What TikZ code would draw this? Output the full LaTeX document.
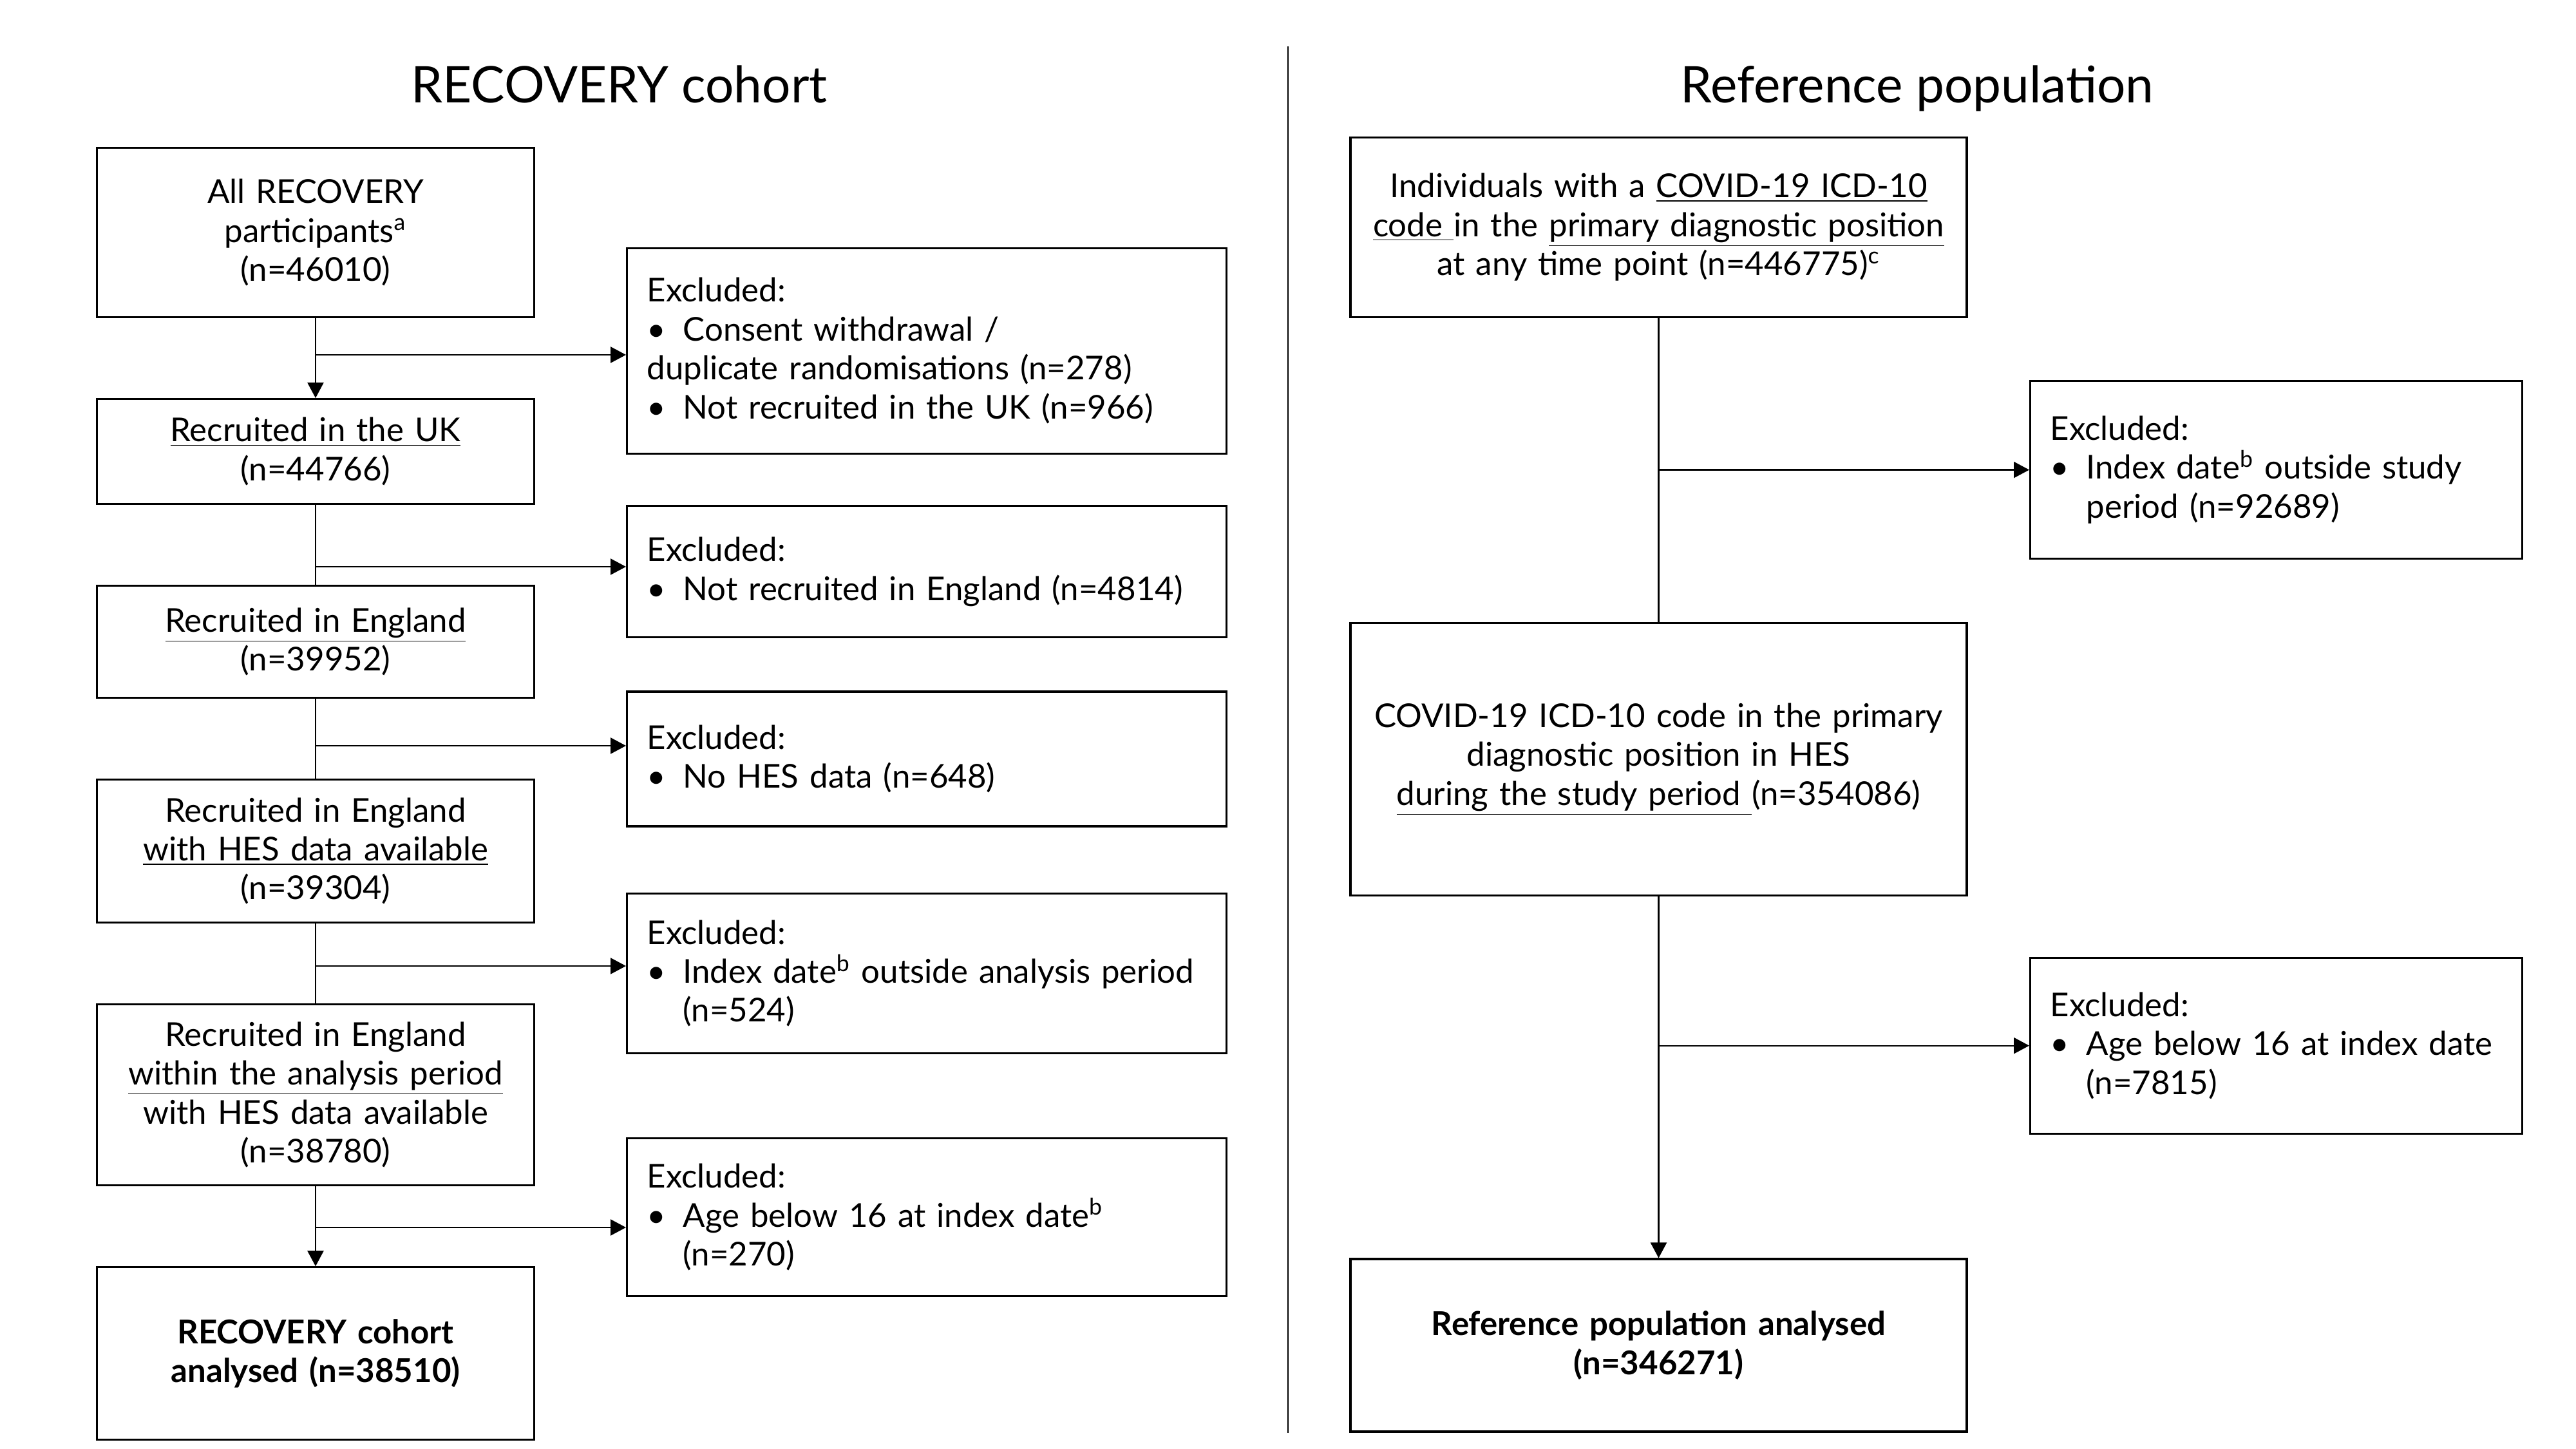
\documentclass[tikz,border=0pt]{standalone}
\usepackage{fontspec}
\setmainfont{Lato}
\usetikzlibrary{arrows.meta, calc, positioning}

\newcommand{\blt}{\makebox[0.56cm][l]{\textbullet}}
\newcommand{\hangtab}{\hspace*{0.56cm}}

\begin{document}
\begin{tikzpicture}[
    >={Triangle[length=0.24cm, width=0.25cm]},
    every node/.style={font=\fontsize{14.5}{17.2}\selectfont},
    heading/.style={font=\fontsize{22.3}{26}\selectfont, anchor=base},
    cohortbox/.style={rectangle, draw, line width=0.9pt, align=center,
        inner xsep=0.2cm, text width=6.39cm},
    refbox/.style={cohortbox, text width=9.17cm},
    endbox/.style={font=\fontsize{14.5}{17.2}\selectfont\bfseries},
    exclbox/.style={rectangle, draw, line width=0.9pt, align=left, anchor=west,
        inner xsep=0.31cm, text width=8.69cm},
    refexcl/.style={exclbox, text width=7.02cm},
    flow/.style={line width=0.65pt}
]

    \useasboundingbox (0,0) rectangle (40,-22.5);

    % Titles -----------------------------------------------------

    \node[heading] (lefttitle) at (9.615,-1.60) {RECOVERY cohort};
    \node[heading] (righttitle) at (29.77,-1.60) {Reference population};
    \draw[flow] (20,-0.72) -- (20,-22.245);

    % RECOVERY column --------------------------------------------

    \node[cohortbox, minimum height=2.63cm] (a1) at (4.90,-3.61)
        {All RECOVERY\\ participants\textsuperscript{a}\\ (n=46010)};
    \node[cohortbox, minimum height=1.63cm, below=1.24cm of a1] (a2)
        {\underline{Recruited in the UK}\\ (n=44766)};
    \node[cohortbox, minimum height=1.735cm, below=1.24cm of a2] (a3)
        {\underline{Recruited in England}\\ (n=39952)};
    \node[cohortbox, minimum height=2.22cm, below=1.24cm of a3] (a4)
        {Recruited in England\\ \underline{with HES data available}\\ (n=39304)};
    \node[cohortbox, minimum height=2.81cm, below=1.24cm of a4] (a5)
        {Recruited in England\\ \underline{within the analysis period}\\
         with HES data available\\ (n=38780)};
    \node[cohortbox, endbox, minimum height=2.68cm, below=1.24cm of a5] (a6)
        {RECOVERY cohort\\ analysed (n=38510)};

    % exclusions
    \node[exclbox, minimum height=3.19cm] (e1) at (9.72,-5.446)
        {Excluded:\\ \blt Consent withdrawal /\\ duplicate randomisations (n=278)\\
         \blt Not recruited in the UK (n=966)};
    \node[exclbox, minimum height=2.04cm] (e2) at (9.72,-8.878)
        {Excluded:\\ \blt Not recruited in England (n=4814)};
    \node[exclbox, minimum height=2.09cm] (e3) at (9.72,-11.785)
        {Excluded:\\ \blt No HES data (n=648)};
    \node[exclbox, minimum height=2.475cm] (e4) at (9.72,-15.115)
        {Excluded:\\ \blt Index date\textsuperscript{b} outside analysis period\\ \hangtab(n=524)};
    \node[exclbox, minimum height=2.45cm] (e5) at (9.72,-18.90)
        {Excluded:\\ \blt Age below 16 at index date\textsuperscript{b}\\ \hangtab(n=270)};

    % Reference column -------------------------------------------

    \node[refbox, minimum height=2.79cm] (b1) at (25.755,-3.527)
        {Individuals with a \underline{COVID-19 ICD-10}\\
         \underline{code\ }in the \underline{primary diagnostic position}\\
         at any time point (n=446775)\textsuperscript{c}};
    \node[refbox, minimum height=4.235cm, below=4.72cm of b1] (b2)
        {COVID-19 ICD-10 code in the primary\\ diagnostic position in HES\\
         \underline{during the study period\ }(n=354086)};
    \node[refbox, endbox, minimum height=2.68cm, below=5.61cm of b2] (b3)
        {Reference population analysed\\ (n=346271)};

    \node[refexcl, minimum height=2.755cm] (r1) at (31.51,-7.296)
        {Excluded:\\ \blt Index date\textsuperscript{b} outside study\\ \hangtab period (n=92689)};
    \node[refexcl, minimum height=2.73cm] (r2) at (31.51,-16.237)
        {Excluded:\\ \blt Age below 16 at index date\\ \hangtab(n=7815)};

    % Arrows -----------------------------------------------------

    \draw[flow, ->] (a1) -- (a2);
    \draw[flow] (a2) -- (a3);
    \draw[flow] (a3) -- (a4);
    \draw[flow] (a4) -- (a5);
    \draw[flow, ->] (a5) -- (a6);

    \coordinate (j1) at (a1.south |- 0,-5.51);
    \coordinate (j2) at (a1.south |- 0,-8.80);
    \coordinate (j3) at (a1.south |- 0,-11.58);
    \coordinate (j4) at (a1.south |- 0,-15.0);
    \coordinate (j5) at (a1.south |- 0,-19.06);
    \draw[flow, ->] (j1) -- (j1 -| e1.west);
    \draw[flow, ->] (j2) -- (j2 -| e2.west);
    \draw[flow, ->] (j3) -- (j3 -| e3.west);
    \draw[flow, ->] (j4) -- (j4 -| e4.west);
    \draw[flow, ->] (j5) -- (j5 -| e5.west);

    \draw[flow] (b1) -- (b2);
    \draw[flow, ->] (b2) -- (b3);
    \draw[flow, ->] (b1 |- r1.west) -- (r1.west);
    \draw[flow, ->] (b2 |- r2.west) -- (r2.west);

\end{tikzpicture}
\end{document}
